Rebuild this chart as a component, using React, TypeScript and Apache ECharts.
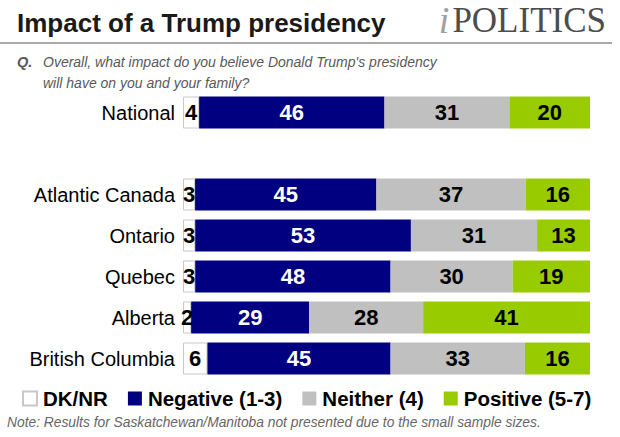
import React, { useEffect, useRef } from "react";
import * as echarts from "echarts";

const categories = ["National", "", "Atlantic Canada", "Ontario", "Quebec", "Alberta", "British Columbia"];
const dkNr: (number | null)[] = [4, null, 3, 3, 3, 2, 6];
const negative: (number | null)[] = [46, null, 45, 53, 48, 29, 45];
const neither: (number | null)[] = [31, null, 37, 31, 30, 28, 33];
const positive: (number | null)[] = [20, null, 16, 13, 19, 41, 16];
const seriesNames = ["DK/NR", "Negative (1-3)", "Neither (4)", "Positive (5-7)"];

export default function App() {
  const ref = useRef<HTMLDivElement>(null);
  useEffect(() => {
    if (!ref.current) return;
    const chart = echarts.init(ref.current, null, { renderer: "svg" });
    const all = [dkNr, negative, neither, positive];
    const totals = categories.map((_, i) =>
      all.reduce((s, arr) => s + (arr[i] ?? 0), 0)
    );
    const toData = (arr: (number | null)[]) =>
      arr.map((v, i) =>
        v == null ? "-" : { value: (v / totals[i]) * 100, raw: v }
      );
    const colors = ["#ffffff", "#000080", "#c0c0c0", "#99cc00"];
    const labelColors = ["#000", "#fff", "#000", "#000"];
    const font = "Liberation Sans, Arial, sans-serif";
    const series = all.map((arr, k) => ({
      name: seriesNames[k],
      type: "bar",
      stack: "total",
      barWidth: 32,
      data: toData(arr),
      itemStyle: {
        color: colors[k],
        borderColor: k === 0 ? "#c8c8c8" : colors[k],
        borderWidth: k === 0 ? 1 : 0,
      },
      label: {
        show: true,
        position: "inside",
        color: labelColors[k],
        fontFamily: font,
        fontWeight: "bold",
        fontSize: 22,
        formatter: (p: any) => String(p.data.raw),
      },
    }));
    chart.setOption({
      animation: false,
      grid: { left: 183, right: 30, top: 92, height: 287 },
      xAxis: { type: "value", min: 0, max: 100, show: false },
      yAxis: {
        type: "category",
        inverse: true,
        data: categories,
        axisLine: { show: false },
        axisTick: { show: false },
        axisLabel: { color: "#000", fontSize: 20, fontFamily: font, margin: 8 },
      },
      legend: {
        left: 17,
        top: 383,
        itemWidth: 14,
        itemHeight: 14,
        itemGap: 20,
        icon: "rect",
        textStyle: { color: "#000", fontSize: 20.5, fontWeight: "bold", fontFamily: font, padding: [0, 0, 0, 1] },
        data: seriesNames,
      },
      graphic: [
        {
          type: "text",
          x: 17,
          y: 23,
          style: {
            text: "Impact of a Trump presidency",
            font: "bold 26px Liberation Sans, Arial, sans-serif",
            fill: "#1a1a1a",
            verticalAlign: "middle",
          },
        },
        {
          type: "text",
          x: 606,
          y: 20,
          style: {
            text: "{i|i}{p|POLITICS}",
            align: "right",
            verticalAlign: "middle",
            fill: "#4d4d4d",
            rich: {
              i: {
                fontFamily: "Liberation Serif, Times New Roman, serif",
                fontStyle: "italic",
                fontSize: 38,
                fill: "#a0a0a0",
                padding: [0, 3, 0, 0],
              },
              p: {
                fontFamily: "Liberation Serif, Times New Roman, serif",
                fontSize: 35,
                fill: "#4d4d4d",
              },
            },
          },
        },
        {
          type: "line",
          shape: { x1: 0, y1: 43, x2: 612, y2: 43 },
          style: { stroke: "#8c8c8c", lineWidth: 1.5 },
        },
        {
          type: "text",
          x: 17,
          y: 62,
          style: {
            text: "Q.",
            font: "italic bold 14.5px Liberation Sans, Arial, sans-serif",
            fill: "#595959",
            verticalAlign: "middle",
          },
        },
        {
          type: "text",
          x: 43,
          y: 62,
          style: {
            text: "Overall, what impact do you believe Donald Trump's presidency",
            font: "italic 14px Liberation Sans, Arial, sans-serif",
            fill: "#595959",
            verticalAlign: "middle",
          },
        },
        {
          type: "text",
          x: 43,
          y: 83,
          style: {
            text: "will have on you and your family?",
            font: "italic 14px Liberation Sans, Arial, sans-serif",
            fill: "#595959",
            verticalAlign: "middle",
          },
        },
        {
          type: "text",
          x: 7,
          y: 422,
          style: {
            text: "Note: Results for Saskatchewan/Manitoba not presented due to the small sample sizes.",
            font: "italic 13.8px Liberation Sans, Arial, sans-serif",
            fill: "#666666",
            verticalAlign: "middle",
          },
        },
      ],
      series,
    });
    return () => chart.dispose();
  }, []);
  return <div ref={ref} style={{ width: 620, height: 437, position: "absolute", left: 0, top: 0, background: "#fff" }} />;
}
